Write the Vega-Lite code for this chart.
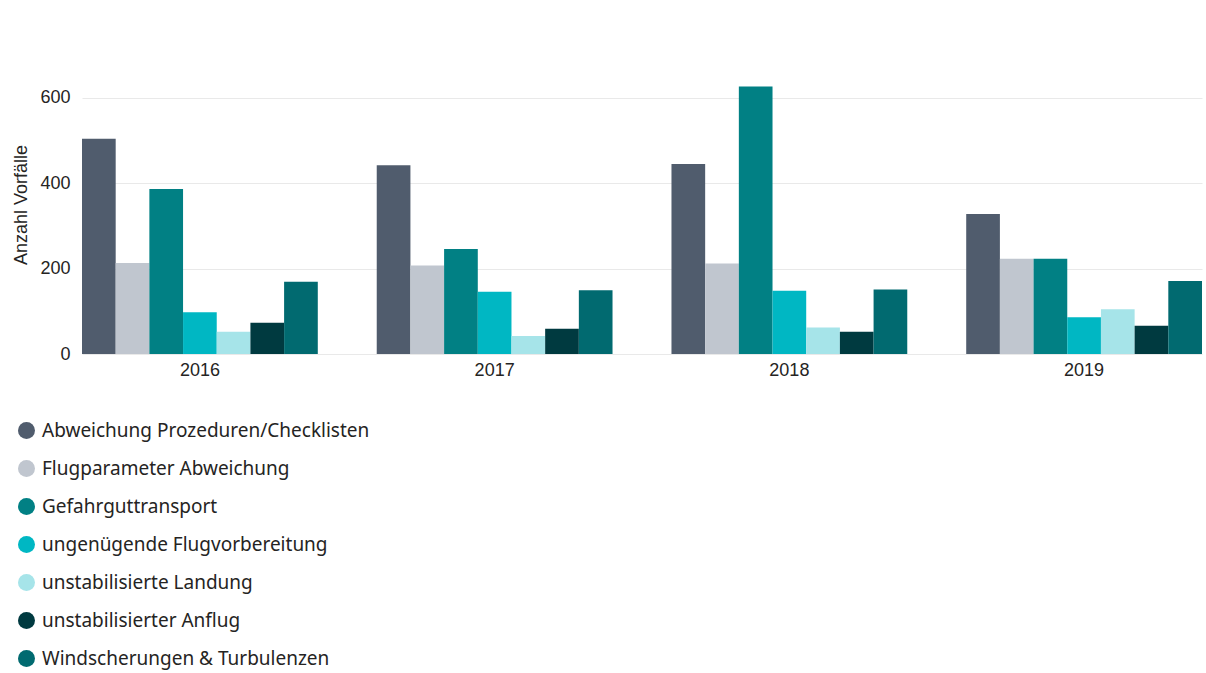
{
  "$schema": "https://vega.github.io/schema/vega-lite/v6.json",
  "width": 1120,
  "height": 299,
  "autosize": "none",
  "padding": {"left": 82, "top": 55, "right": 4, "bottom": 319},
  "background": "white",
  "config": {
    "view": {"stroke": null},
    "axis": {"labelFont": "Liberation Sans", "titleFont": "Liberation Sans"}
  },
  "data": {
    "values": [
      {"Jahr": "2016", "Kategorie": "Abweichung Prozeduren/Checklisten", "Anzahl": 504},
      {"Jahr": "2016", "Kategorie": "Flugparameter Abweichung", "Anzahl": 213},
      {"Jahr": "2016", "Kategorie": "Gefahrguttransport", "Anzahl": 386},
      {"Jahr": "2016", "Kategorie": "ungenügende Flugvorbereitung", "Anzahl": 98},
      {"Jahr": "2016", "Kategorie": "unstabilisierte Landung", "Anzahl": 52},
      {"Jahr": "2016", "Kategorie": "unstabilisierter Anflug", "Anzahl": 73},
      {"Jahr": "2016", "Kategorie": "Windscherungen & Turbulenzen", "Anzahl": 169},
      {"Jahr": "2017", "Kategorie": "Abweichung Prozeduren/Checklisten", "Anzahl": 442},
      {"Jahr": "2017", "Kategorie": "Flugparameter Abweichung", "Anzahl": 207},
      {"Jahr": "2017", "Kategorie": "Gefahrguttransport", "Anzahl": 246},
      {"Jahr": "2017", "Kategorie": "ungenügende Flugvorbereitung", "Anzahl": 146},
      {"Jahr": "2017", "Kategorie": "unstabilisierte Landung", "Anzahl": 42},
      {"Jahr": "2017", "Kategorie": "unstabilisierter Anflug", "Anzahl": 59},
      {"Jahr": "2017", "Kategorie": "Windscherungen & Turbulenzen", "Anzahl": 149},
      {"Jahr": "2018", "Kategorie": "Abweichung Prozeduren/Checklisten", "Anzahl": 445},
      {"Jahr": "2018", "Kategorie": "Flugparameter Abweichung", "Anzahl": 212},
      {"Jahr": "2018", "Kategorie": "Gefahrguttransport", "Anzahl": 626},
      {"Jahr": "2018", "Kategorie": "ungenügende Flugvorbereitung", "Anzahl": 148},
      {"Jahr": "2018", "Kategorie": "unstabilisierte Landung", "Anzahl": 62},
      {"Jahr": "2018", "Kategorie": "unstabilisierter Anflug", "Anzahl": 52},
      {"Jahr": "2018", "Kategorie": "Windscherungen & Turbulenzen", "Anzahl": 151},
      {"Jahr": "2019", "Kategorie": "Abweichung Prozeduren/Checklisten", "Anzahl": 328},
      {"Jahr": "2019", "Kategorie": "Flugparameter Abweichung", "Anzahl": 223},
      {"Jahr": "2019", "Kategorie": "Gefahrguttransport", "Anzahl": 223},
      {"Jahr": "2019", "Kategorie": "ungenügende Flugvorbereitung", "Anzahl": 86},
      {"Jahr": "2019", "Kategorie": "unstabilisierte Landung", "Anzahl": 105},
      {"Jahr": "2019", "Kategorie": "unstabilisierter Anflug", "Anzahl": 66},
      {"Jahr": "2019", "Kategorie": "Windscherungen & Turbulenzen", "Anzahl": 171}
    ]
  },
  "mark": {"type": "bar"},
  "encoding": {
    "x": {
      "field": "Jahr",
      "type": "nominal",
      "scale": {"paddingInner": 0.2, "paddingOuter": 0},
      "axis": {
        "title": null,
        "labelAngle": 0,
        "labelFontSize": 18,
        "labelColor": "#252423",
        "labelPadding": 7,
        "ticks": false,
        "domain": false
      }
    },
    "xOffset": {
      "field": "Kategorie",
      "type": "nominal",
      "sort": null,
      "scale": {"paddingInner": 0, "paddingOuter": 0}
    },
    "y": {
      "field": "Anzahl",
      "type": "quantitative",
      "scale": {"domain": [0, 700], "nice": false},
      "axis": {
        "title": "Anzahl Vorfälle",
        "titleFontSize": 18,
        "titleFontWeight": "normal",
        "titleColor": "#252423",
        "titlePadding": 9,
        "values": [0, 200, 400, 600],
        "labelFontSize": 18,
        "labelColor": "#252423",
        "labelPadding": 12,
        "ticks": false,
        "domain": false,
        "gridColor": "#E9E9E9",
        "gridWidth": 1
      }
    },
    "color": {
      "field": "Kategorie",
      "type": "nominal",
      "sort": null,
      "scale": {
        "domain": ["Abweichung Prozeduren/Checklisten", "Flugparameter Abweichung", "Gefahrguttransport", "ungenügende Flugvorbereitung", "unstabilisierte Landung", "unstabilisierter Anflug", "Windscherungen & Turbulenzen"],
        "range": ["#505C6D", "#C0C6CF", "#018084", "#00B7C3", "#A6E4E9", "#003A40", "#016A70"]
      },
      "legend": {
        "title": null,
        "orient": "none",
        "legendX": -65,
        "legendY": 366,
        "direction": "vertical",
        "symbolType": "circle",
        "symbolSize": 289,
        "symbolStrokeWidth": 0,
        "labelFont": "Noto Sans",
        "labelFontSize": 19,
        "labelColor": "#252423",
        "labelOffset": 6,
        "rowPadding": 18,
        "labelLimit": 600
      }
    }
  }
}
